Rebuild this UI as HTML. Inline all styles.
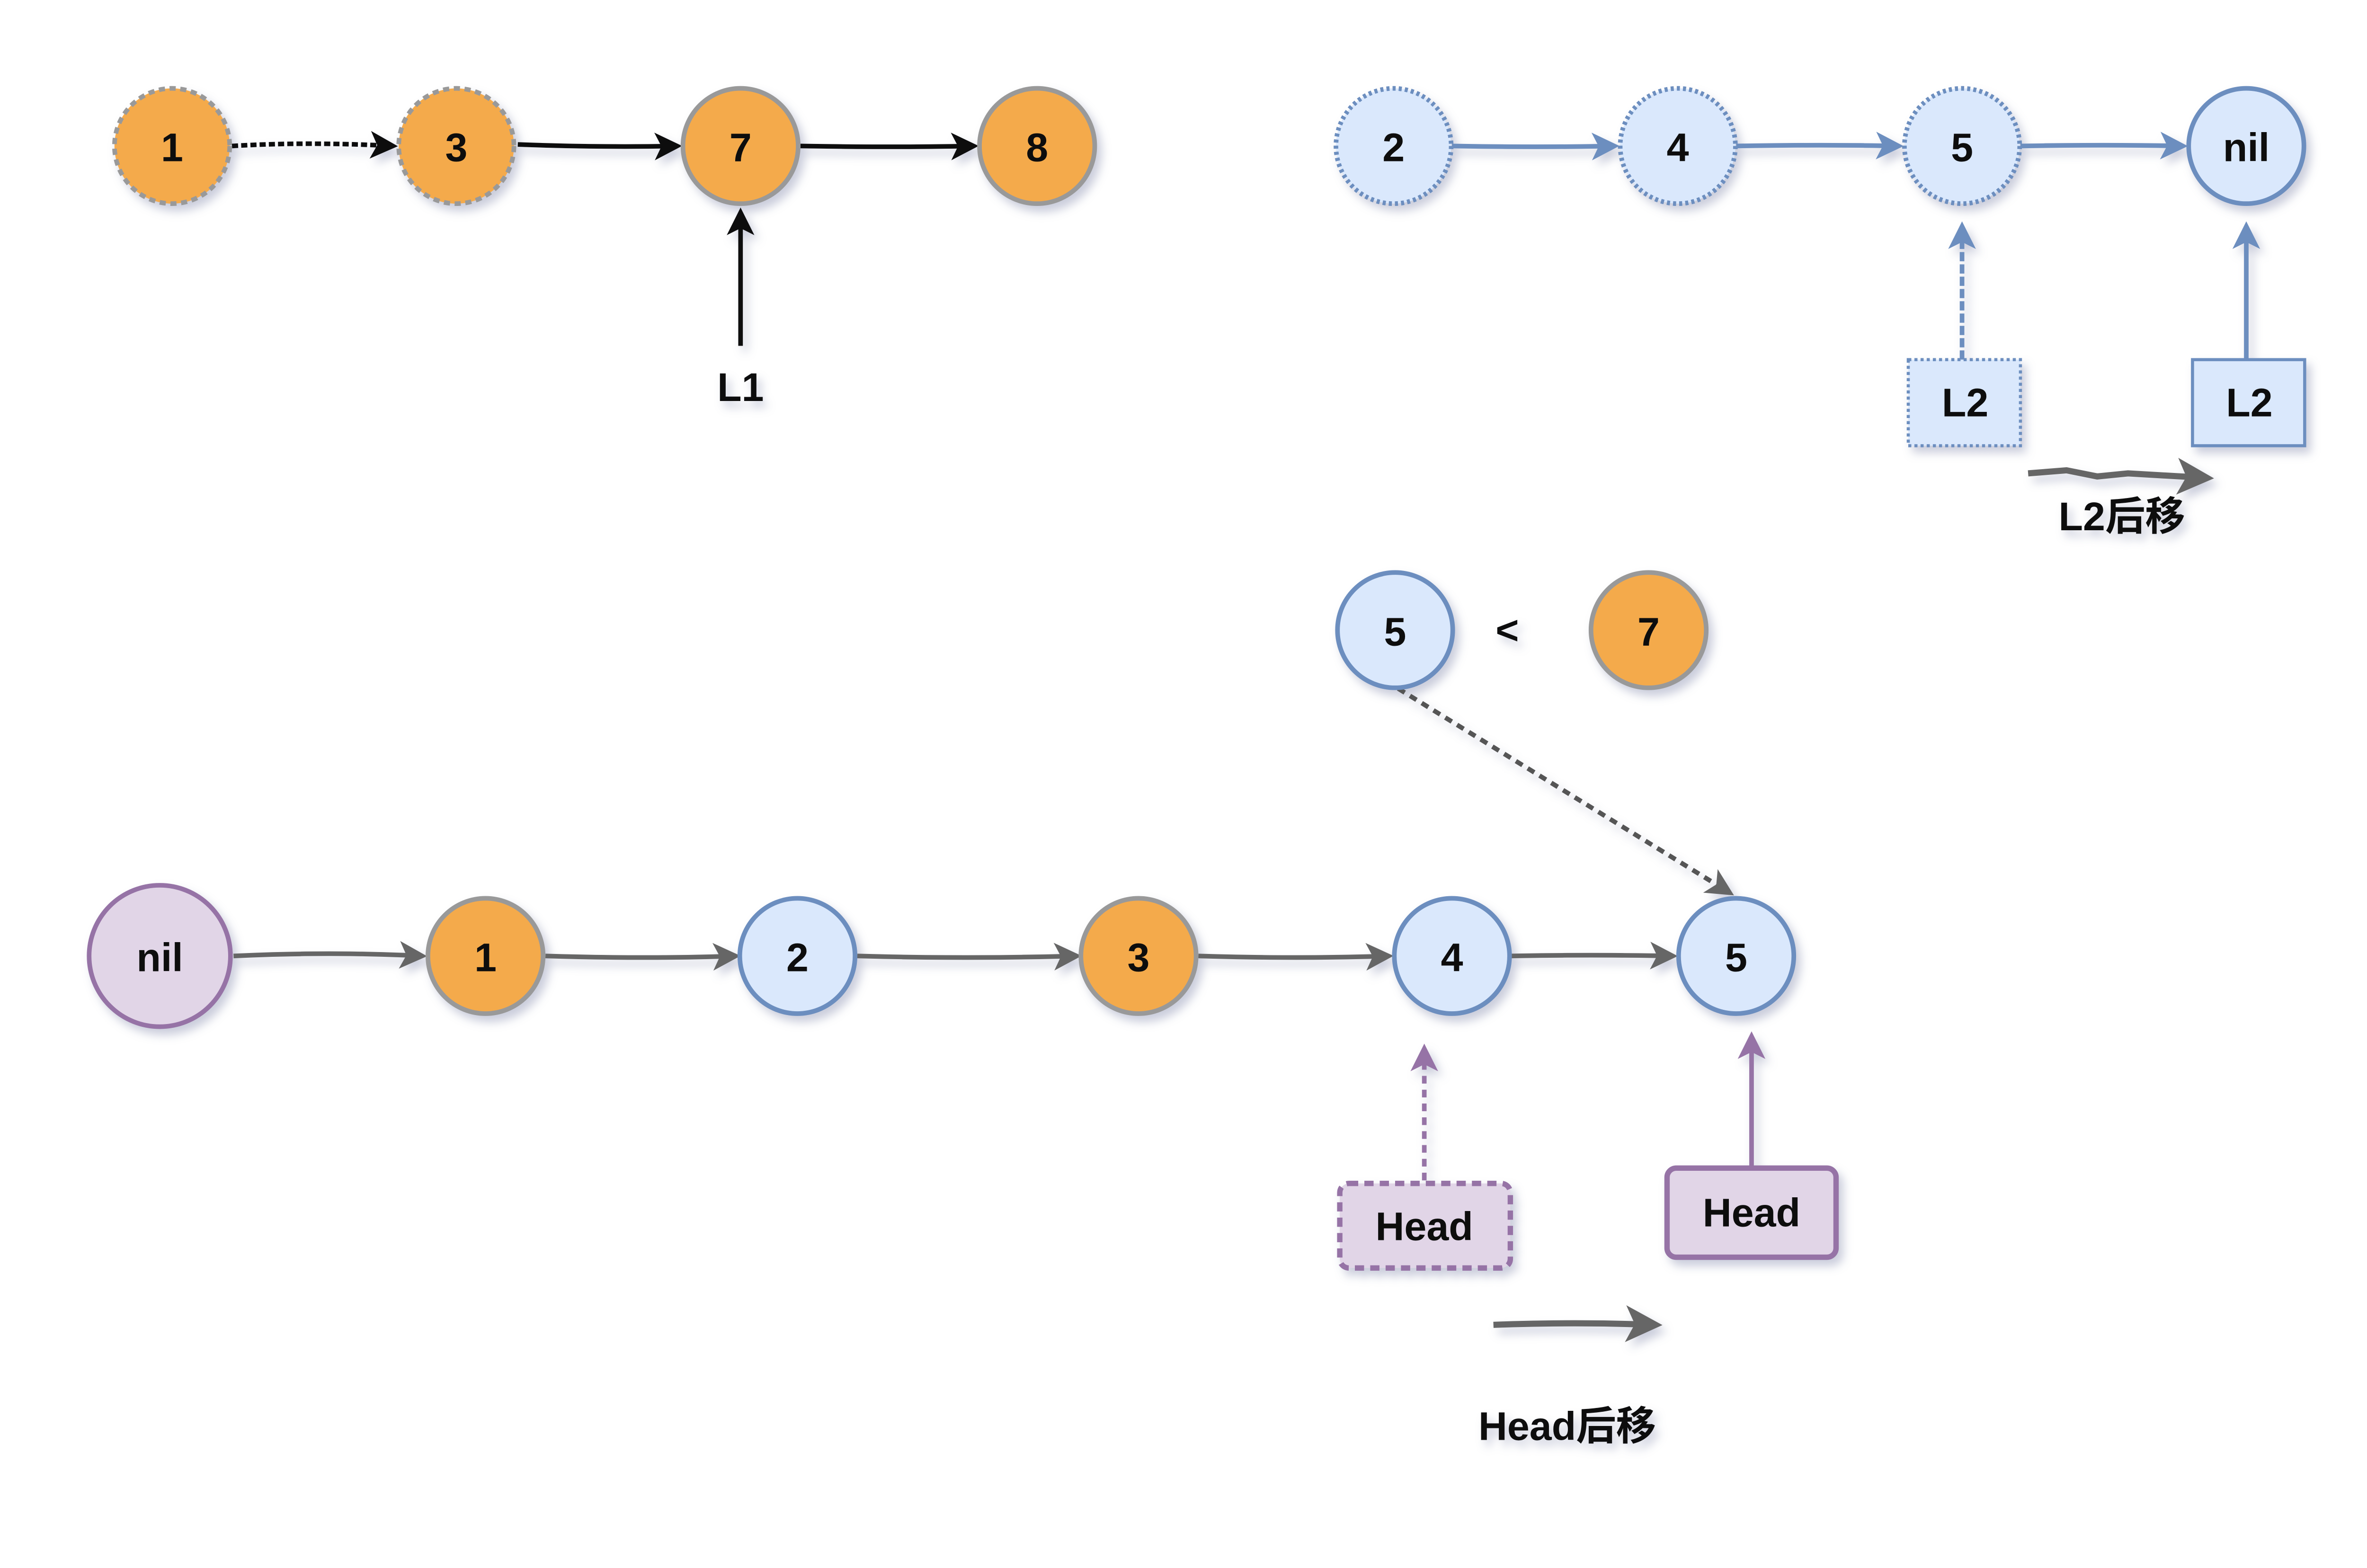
<!DOCTYPE html>
<html><head><meta charset="utf-8"><style>
html,body{margin:0;padding:0;background:#fff;}
svg{display:block;}
text{font-family:"Liberation Sans","Noto Sans CJK SC",sans-serif;font-weight:bold;fill:#111;text-anchor:middle;dominant-baseline:central;}
</style></head><body>
<svg width="5088" height="3312" viewBox="0 0 1552 1010" preserveAspectRatio="none" xmlns="http://www.w3.org/2000/svg">
<defs>
<filter id="sh" x="-30%" y="-30%" width="170%" height="170%"><feDropShadow dx="3" dy="4" stdDeviation="3" flood-color="#8a8fb0" flood-opacity="0.45"/></filter>
<marker id="ab" markerWidth="8" markerHeight="8" refX="6" refY="4" orient="auto" markerUnits="strokeWidth"><path d="M1,1 L7,4 L1,7 L2.5,4z" fill="#111"/></marker>
<marker id="abl" markerWidth="8" markerHeight="8" refX="6" refY="4" orient="auto" markerUnits="strokeWidth"><path d="M1,1 L7,4 L1,7 L2.5,4z" fill="#6c8ebf"/></marker>
<marker id="ag" markerWidth="8" markerHeight="8" refX="6" refY="4" orient="auto" markerUnits="strokeWidth"><path d="M1,1 L7,4 L1,7 L2.5,4z" fill="#666"/></marker>
<marker id="ap" markerWidth="8" markerHeight="8" refX="6" refY="4" orient="auto" markerUnits="strokeWidth"><path d="M1,1 L7,4 L1,7 L2.5,4z" fill="#9673a6"/></marker>
</defs>
<g filter="url(#sh)" font-size="26" transform="scale(0.99)">
<!-- top left -->
<g stroke="#111" stroke-width="3" fill="none">
<path d="M151,95 Q200,92 256,95" stroke-dasharray="4 2" marker-end="url(#ab)"/>
<path d="M337,94 Q390,96 441,95" marker-end="url(#ab)"/>
<path d="M521,95 Q580,96 634,95" marker-end="url(#ab)"/>
<path d="M482,225 L482,138" marker-end="url(#ab)"/>
</g>
<g stroke="#999" stroke-width="3" fill="#f4aa4c">
<circle cx="112" cy="95" r="37.5" stroke-dasharray="4 3"/>
<circle cx="297" cy="95" r="37.5" stroke-dasharray="4 3"/>
<circle cx="482" cy="95" r="37.5"/>
<circle cx="675" cy="95" r="37.5"/>
</g>
<text x="112" y="96">1</text><text x="297" y="96">3</text><text x="482" y="96">7</text><text x="675" y="96">8</text>
<text x="482" y="252">L1</text>
<!-- top right -->
<g stroke="#6c8ebf" stroke-width="3" fill="none">
<path d="M945,95 Q1000,96 1051,95" marker-end="url(#abl)"/>
<path d="M1130,95 Q1185,94 1236,95" marker-end="url(#abl)"/>
<path d="M1315,95 Q1370,94 1421,95" marker-end="url(#abl)"/>
<path d="M1277,234 L1277,147" stroke-dasharray="6 2" marker-end="url(#abl)"/>
<path d="M1462,234 L1462,147" marker-end="url(#abl)"/>
</g>
<g stroke="#6c8ebf" stroke-width="3" fill="#dae8fc">
<circle cx="907" cy="95" r="37.5" stroke-dasharray="2 2"/>
<circle cx="1092" cy="95" r="37.5" stroke-dasharray="2 2"/>
<circle cx="1277" cy="95" r="37.5" stroke-dasharray="2 2"/>
<circle cx="1462" cy="95" r="37.5"/>
<rect x="1242" y="234" width="73" height="56" stroke-width="2" stroke-dasharray="2 2"/>
<rect x="1427" y="234" width="73" height="56" stroke-width="2"/>
</g>
<text x="907" y="96">2</text><text x="1092" y="96">4</text><text x="1277" y="96">5</text><text x="1462" y="96">nil</text>
<text x="1279" y="262">L2</text><text x="1464" y="262">L2</text>
<path d="M1320,308 L1345,306 L1365,310 L1385,308 L1437,311" stroke="#666" stroke-width="4" fill="none" marker-end="url(#ag)"/>
<text x="1381" y="336">L2后移</text>
<!-- middle -->
<path d="M910,448 L1126,581" stroke="#555" stroke-width="3" stroke-dasharray="5 4" fill="none" marker-end="url(#ag)"/>
<circle cx="908" cy="410" r="37.5" stroke="#6c8ebf" stroke-width="3" fill="#dae8fc"/>
<circle cx="1073" cy="410" r="37.5" stroke="#999" stroke-width="3" fill="#f4aa4c"/>
<text x="908" y="411">5</text><text x="981" y="410">&lt;</text><text x="1073" y="411">7</text>
<!-- bottom -->
<g stroke="#666" stroke-width="3" fill="none">
<path d="M152,622 Q215,619 275,622" marker-end="url(#ag)"/>
<path d="M355,622 Q420,624 479,622" marker-end="url(#ag)"/>
<path d="M558,622 Q630,624 701,622" marker-end="url(#ag)"/>
<path d="M780,622 Q845,624 904,622" marker-end="url(#ag)"/>
<path d="M983,622 Q1035,621 1089,622" marker-end="url(#ag)"/>
<path d="M972,862 Q1025,860 1078,862" stroke-width="4" marker-end="url(#ag)"/>
</g>
<g stroke="#9673a6" stroke-width="3" fill="none">
<path d="M927,768 L927,682" stroke-dasharray="5 4" marker-end="url(#ap)"/>
<path d="M1140,760 L1140,674" marker-end="url(#ap)"/>
</g>
<circle cx="104" cy="622" r="46" stroke="#9673a6" stroke-width="3" fill="#e1d5e7"/>
<g stroke="#999" stroke-width="3" fill="#f4aa4c"><circle cx="316" cy="622" r="37.5"/><circle cx="741" cy="622" r="37.5"/></g>
<g stroke="#6c8ebf" stroke-width="3" fill="#dae8fc"><circle cx="519" cy="622" r="37.5"/><circle cx="945" cy="622" r="37.5"/><circle cx="1130" cy="622" r="37.5"/></g>
<rect x="872" y="770" width="111" height="55" rx="6" stroke="#9673a6" stroke-width="3.5" stroke-dasharray="6 4" fill="#e1d5e7"/>
<rect x="1085" y="760" width="110" height="58" rx="6" stroke="#9673a6" stroke-width="3.5" fill="#e1d5e7"/>
<text x="104" y="623">nil</text><text x="316" y="623">1</text><text x="519" y="623">2</text><text x="741" y="623">3</text><text x="945" y="623">4</text><text x="1130" y="623">5</text>
<text x="927" y="798">Head</text><text x="1140" y="789">Head</text>
<text x="1020" y="928">Head后移</text>
</g>
</svg>
</body></html>
